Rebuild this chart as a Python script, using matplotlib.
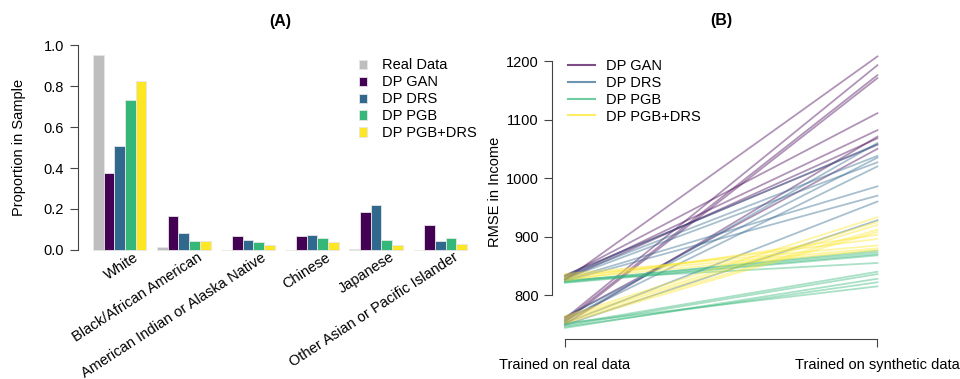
import numpy as np
import matplotlib.pyplot as plt
import matplotlib.transforms as mtransforms
from matplotlib.patches import Patch
from matplotlib.lines import Line2D

plt.rcParams['font.family'] = ['Liberation Sans', 'DejaVu Sans']

# ---- panel A data ----
groups = ["White", "Black/African American", "American Indian or Alaska Native",
          "Chinese", "Japanese", "Other Asian or Pacific Islander"]
methods_a = ["Real Data", "DP GAN", "DP DRS", "DP PGB", "DP PGB+DRS"]
real_data = [0.955, 0.015, 0.001, 0.002, 0.005, 0.001]
dp_gan = [0.375, 0.165, 0.070, 0.068, 0.185, 0.120]
dp_drs = [0.510, 0.085, 0.050, 0.075, 0.220, 0.045]
dp_pgb = [0.735, 0.045, 0.038, 0.057, 0.048, 0.060]
dp_pgb_drs = [0.825, 0.045, 0.022, 0.040, 0.025, 0.028]

# ---- panel B data: RMSE trained on real -> trained on synthetic ----
gan_real = [832, 829, 827, 834, 826, 760, 757, 754, 751, 762]
gan_syn = [1111, 1082, 1068, 1057, 1208, 1193, 1176, 1171, 1071, 1050]
drs_real = [831, 828, 826, 824, 833, 758, 755, 752, 749, 763]
drs_syn = [1038, 1027, 986, 970, 1058, 1020, 1060, 960, 928, 1035]
pgb_real = [824, 822, 826, 823, 821, 750, 748, 746, 752, 744]
pgb_syn = [873, 870, 855, 876, 868, 840, 836, 822, 815, 828]
pgbdrs_real = [836, 833, 830, 828, 825, 764, 761, 758, 755, 752]
pgbdrs_syn = [885, 880, 896, 877, 903, 933, 925, 920, 912, 908]
x_labels_b = ["Trained on real data", "Trained on synthetic data"]

gray = "#BEBEBE"
vir = ["#440154", "#31688E", "#35B779", "#FDE725"]
axis_col = "#444444"
fs = 10.5

fig = plt.figure(figsize=(9.6, 3.79), dpi=100)

# ================= (A) =================
ax1 = fig.add_axes([0.0813, 0.319, 0.4207, 0.583])
series_a = [real_data, dp_gan, dp_drs, dp_pgb, dp_pgb_drs]
cols_a = [gray] + vir
ng = len(groups)
for k, (vals, c) in enumerate(zip(series_a, cols_a)):
    xpos = np.arange(ng) * 6 + k + 1.5
    ax1.bar(xpos, vals, width=1.0, color=c, edgecolor="#e6e6e6", linewidth=0.6)

ax1.set_xlim(-0.4, 37.4)
ax1.set_ylim(-0.04, 1.04)
for s in ["top", "right", "bottom"]:
    ax1.spines[s].set_visible(False)
ax1.spines["left"].set_bounds(0, 1.0)
ax1.spines["left"].set_color(axis_col)
ax1.set_yticks([0, 0.2, 0.4, 0.6, 0.8, 1.0])
ax1.set_yticklabels(["0.0", "0.2", "0.4", "0.6", "0.8", "1.0"])
ax1.tick_params(axis="y", length=6, width=0.8, color=axis_col, labelsize=fs, pad=4)
ax1.set_ylabel("Proportion in Sample", fontsize=fs, labelpad=13)

centers = np.arange(ng) * 6 + 3.5
ax1.set_xticks(centers)
ax1.set_xticklabels(groups, rotation=33, ha="right", va="center",
                    rotation_mode="anchor", fontsize=fs)
ax1.tick_params(axis="x", length=0, pad=0)
off = mtransforms.ScaledTranslation(0.17, 0.02, fig.dpi_scale_trans)
for lab in ax1.get_xticklabels():
    lab.set_transform(lab.get_transform() + off)

ax1.set_title("(A)", fontsize=11.5, fontweight="bold", pad=8)

handles_a = [Patch(facecolor=c, edgecolor="#e6e6e6", linewidth=0.6) for c in cols_a]
ax1.legend(handles_a, methods_a, loc="upper left", bbox_to_anchor=(0.68, 0.93),
           frameon=False, fontsize=fs, handlelength=0.6, handleheight=0.6,
           handletextpad=1.0, labelspacing=0.2, borderaxespad=0)

# ================= (B) =================
ax2 = fig.add_axes([0.5755, 0.1055, 0.3515, 0.778])
series_b = [(gan_real, gan_syn), (drs_real, drs_syn),
            (pgb_real, pgb_syn), (pgbdrs_real, pgbdrs_syn)]
for (r, s), c in zip(series_b, vir):
    for a, b in zip(r, s):
        ax2.plot([1, 2], [a, b], color=c, alpha=0.42, linewidth=1.3)

ax2.set_xlim(0.96, 2.04)
ax2.set_ylim(725, 1229)
for s in ["top", "right"]:
    ax2.spines[s].set_visible(False)
ax2.spines["left"].set_bounds(800, 1200)
ax2.spines["bottom"].set_bounds(1, 2)
ax2.spines["left"].set_color(axis_col)
ax2.spines["bottom"].set_color(axis_col)
ax2.set_yticks([800, 900, 1000, 1100, 1200])
ax2.set_xticks([1, 2])
ax2.set_xticklabels(x_labels_b)
ax2.tick_params(length=6, width=0.8, color=axis_col, labelsize=fs, pad=4)
ax2.tick_params(axis="x", pad=8)
ax2.set_ylabel("RMSE in Income", fontsize=fs, labelpad=2.5)
ax2.set_title("(B)", fontsize=11.5, fontweight="bold", pad=14)

methods_b = ["DP GAN", "DP DRS", "DP PGB", "DP PGB+DRS"]
handles_b = [Line2D([0], [0], color=c, alpha=0.7, linewidth=1.5) for c in vir]
ax2.legend(handles_b, methods_b, loc="upper left", bbox_to_anchor=(0.03, 0.97),
           frameon=False, fontsize=fs, handlelength=1.8, handletextpad=0.8,
           labelspacing=0.2, borderaxespad=0)

fig.savefig("out.png", dpi=100)
